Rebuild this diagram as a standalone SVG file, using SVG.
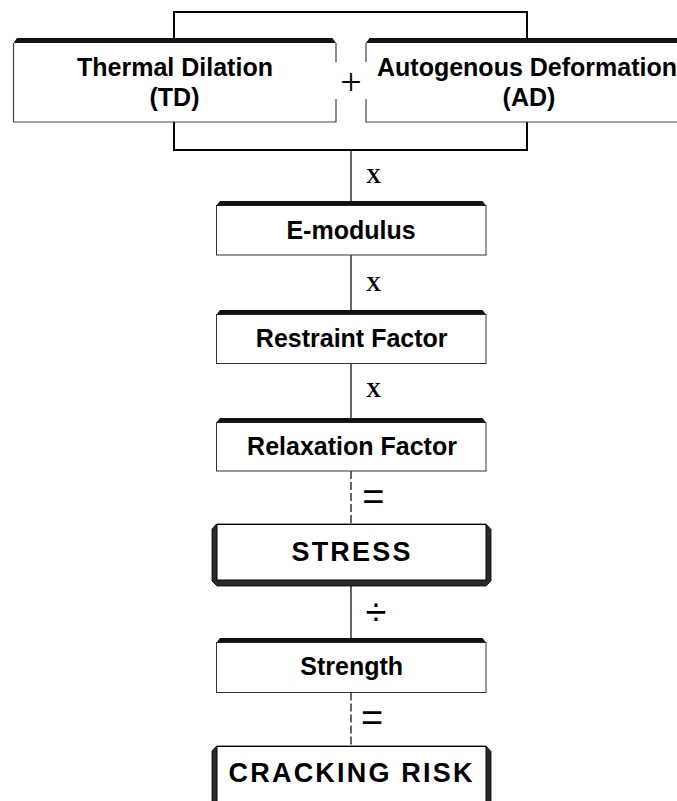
<svg xmlns="http://www.w3.org/2000/svg" width="677" height="801" viewBox="0 0 677 801">
<style>
.body{fill:#fff;stroke:#333;stroke-width:1}
.band{fill:#111}
.edge{fill:none;stroke:#444;stroke-width:1.2}
.heavy{fill:#2a2a2a;stroke:#000;stroke-width:0.8}
.inner{fill:#fff;stroke:#000;stroke-width:1}
.lbl{font-family:"Liberation Sans",Arial,sans-serif;font-weight:bold;font-size:25px;fill:#000;text-anchor:middle}
.big{font-size:27px;letter-spacing:2.2px}
.op{font-family:"Liberation Serif","Times New Roman",serif;font-weight:bold;font-size:21px;fill:#000;text-anchor:middle}
.sym{font-family:"Liberation Sans",Arial,sans-serif;font-size:38px;fill:#000;text-anchor:middle}
.plus{font-family:"Liberation Serif","Times New Roman",serif;font-size:38px;fill:#000;text-anchor:middle}
.conn{fill:none;stroke:#000;stroke-width:1.2}
.dash{stroke-dasharray:8 3}
.brk{fill:none;stroke:#000;stroke-width:2}
</style>
<rect width="677" height="801" fill="#fff"/>

<g id="connectors">
  <path class="brk" d="M174,40 V12 H527 V40"/>
  <path class="brk" d="M174,122 V150 H527 V122"/>
  <path class="conn" d="M351,150 V201"/>
  <path class="conn" d="M351,255 V310"/>
  <path class="conn" d="M351,363.5 V418"/>
  <path class="conn dash" d="M351,471 V524"/>
  <path class="conn" d="M351,586 V638"/>
  <path class="conn dash" d="M351,692.5 V746"/>
  <text class="plus" x="351" y="95">+</text>
  <text class="op" x="373.5" y="182.7">X</text>
  <text class="op" x="373.5" y="291">X</text>
  <text class="op" x="373.5" y="396.7">X</text>
  <text class="sym" x="373.3" y="510">=</text>
  <text class="sym" x="376" y="625">÷</text>
  <text class="sym" x="372" y="730.5">=</text>
</g>

<g id="node-td">
  <rect x="13.5" y="42.5" width="322.5" height="79.5" fill="#fff"/>
  <polygon class="band" points="13.5,43 17,38 332.5,38 336,43"/>
  <path class="edge" d="M336,43 V62 M336,99 V122 H13.5 V43"/>
  <text class="lbl" x="175" y="76">Thermal Dilation</text>
  <text class="lbl" x="174.5" y="106">(TD)</text>
</g>

<g id="node-ad">
  <rect x="366" y="42.5" width="323" height="79.5" fill="#fff"/>
  <polygon class="band" points="366,43 369.5,38 685.5,38 689,43"/>
  <path class="edge" d="M366,43 V62 M366,99 V122 H689"/>
  <text class="lbl" x="527" y="76">Autogenous Deformation</text>
  <text class="lbl" x="529" y="106">(AD)</text>
</g>

<g id="node-emod">
  <rect class="body" x="216.5" y="205.5" width="269.5" height="49.5"/>
  <polygon class="band" points="216.5,205.5 220,201 482.5,201 486,205.5"/>
  <text class="lbl" x="351" y="239.3">E-modulus</text>
</g>

<g id="node-restraint">
  <rect class="body" x="216.5" y="314.5" width="269.5" height="49"/>
  <polygon class="band" points="216.5,314.5 220,310 482.5,310 486,314.5"/>
  <text class="lbl" x="351.7" y="346.7">Restraint Factor</text>
</g>

<g id="node-relax">
  <rect class="body" x="216.5" y="422.5" width="269.5" height="48.5"/>
  <polygon class="band" points="216.5,422.5 220,418 482.5,418 486,422.5"/>
  <text class="lbl" x="352" y="455">Relaxation Factor</text>
</g>

<g id="node-stress">
  <polygon class="heavy" points="212,529 216.5,524 486,524 491,529.5 491,581 486,586 217,586 212,581"/>
  <rect class="inner" x="217" y="524.5" width="269" height="55.5"/>
  <text class="lbl big" x="352.1" y="561">STRESS</text>
</g>

<g id="node-strength">
  <rect class="body" x="216.5" y="642.5" width="269.5" height="50"/>
  <polygon class="band" points="216.5,642.5 220,638 482.5,638 486,642.5"/>
  <text class="lbl" x="351.7" y="675">Strength</text>
</g>

<g id="node-risk">
  <polygon class="heavy" points="212,751 216.5,746 486,746 491,751.5 491,806 212,806"/>
  <rect class="inner" x="217" y="746.5" width="269" height="60"/>
  <text class="lbl big" x="351.6" y="781.7">CRACKING RISK</text>
</g>
</svg>
